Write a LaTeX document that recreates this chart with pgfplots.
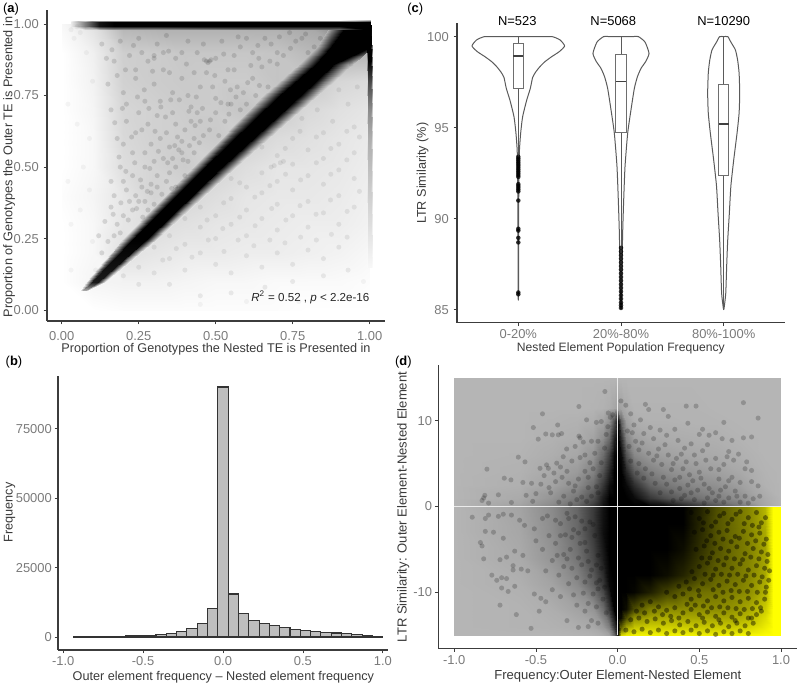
\documentclass[border=0pt]{standalone}
\usepackage{fontspec}
\setmainfont{Liberation Sans}
\usepackage{pgfplots}
\pgfplotsset{compat=1.18}
\definecolor{axisline}{HTML}{3C3C3C}
\definecolor{ticktext}{HTML}{7A7A7A}
\definecolor{titletext}{HTML}{3A3A3A}
\definecolor{violinline}{HTML}{5A5A5A}
\definecolor{boxline}{HTML}{6E6E6E}
\definecolor{barfill}{HTML}{BEBEBE}
\definecolor{panelgray}{HTML}{B5B5B5}
\pgfplotsset{
  panel/.style={
    scale only axis,
    axis lines=left,
    axis line style={-,color=axisline,line width=0.8pt},
    tick align=outside,
    major tick length=2.6pt,
    tick style={color=axisline,line width=0.6pt},
    scaled ticks=false,
    tick label style={font=\fontsize{9.7}{11}\selectfont,color=ticktext},
    label style={font=\fontsize{9.5}{11}\selectfont,color=titletext},
  },
  dots/.style 2 args={only marks,mark=*,mark size=#1,
    mark options={draw opacity=0,fill=black,fill opacity=#2}},
}
\begin{document}
\begin{tikzpicture}
\useasboundingbox (0,0) rectangle (600pt,513.75pt);

% (a) genotypes scatter
\begin{axis}[panel,at={(35.25pt,273pt)},width=253.5pt,height=233.25pt,
  xmin=-0.048,xmax=1.05,ymin=-0.038,ymax=1.049,
  xtick={0,0.25,0.5,0.75,1},xticklabels={0.00,0.25,0.50,0.75,1.00},
  ytick={0,0.25,0.5,0.75,1},yticklabels={0.00,0.25,0.50,0.75,1.00},
  xticklabel style={yshift=-2pt},
  xlabel={Proportion of Genotypes the Nested TE is Presented in},
  ylabel={Proportion of Genotypes the Outer TE is Presented in},
  xlabel style={at={(axis description cs:0.5,-0.09)},anchor=center},
  ylabel style={at={(axis description cs:-0.112,0.495)},anchor=center},
  colormap={bw}{gray=(1) gray=(0)},point meta min=0,point meta max=1]
% estimated darkness of the cloud, 0.1 steps
\addplot[surf,shader=interp,mesh/cols=11,point meta=explicit]
  table[x=x,y=y,meta=d,row sep=\\]{
x y d\\
0 0 0\\ .1 0 0\\ .2 0 .01\\ .3 0 .01\\ .4 0 .01\\ .5 0 .01\\ .6 0 .01\\ .7 0 .01\\ .8 0 0\\ .9 0 0\\ 1 0 0\\
0 .1 0\\ .1 .1 .04\\ .2 .1 .05\\ .3 .1 .05\\ .4 .1 .04\\ .5 .1 .03\\ .6 .1 .03\\ .7 .1 .02\\ .8 .1 .02\\ .9 .1 .02\\ 1 .1 .01\\
0 .2 .0\\ .1 .2 .03\\ .2 .2 .12\\ .3 .2 .1\\ .4 .2 .08\\ .5 .2 .08\\ .6 .2 .07\\ .7 .2 .07\\ .8 .2 .06\\ .9 .2 .05\\ 1 .2 .03\\
0 .3 0\\ .1 .3 .03\\ .2 .3 .1\\ .3 .3 .14\\ .4 .3 .12\\ .5 .3 .1\\ .6 .3 .09\\ .7 .3 .08\\ .8 .3 .07\\ .9 .3 .07\\ 1 .3 .05\\
0 .4 .01\\ .1 .4 .04\\ .2 .4 .1\\ .3 .4 .17\\ .4 .4 .16\\ .5 .4 .13\\ .6 .4 .1\\ .7 .4 .09\\ .8 .4 .09\\ .9 .4 .08\\ 1 .4 .06\\
0 .5 0\\ .1 .5 .03\\ .2 .5 .13\\ .3 .5 .17\\ .4 .5 .2\\ .5 .5 .17\\ .6 .5 .13\\ .7 .5 .1\\ .8 .5 .1\\ .9 .5 .09\\ 1 .5 .07\\
0 .6 0\\ .1 .6 .03\\ .2 .6 .15\\ .3 .6 .18\\ .4 .6 .19\\ .5 .6 .21\\ .6 .6 .18\\ .7 .6 .14\\ .8 .6 .12\\ .9 .6 .1\\ 1 .6 .08\\
0 .7 0\\ .1 .7 .04\\ .2 .7 .16\\ .3 .7 .18\\ .4 .7 .2\\ .5 .7 .2\\ .6 .7 .23\\ .7 .7 .2\\ .8 .7 .15\\ .9 .7 .12\\ 1 .7 .1\\
0 .8 0\\ .1 .8 .05\\ .2 .8 .18\\ .3 .8 .2\\ .4 .8 .21\\ .5 .8 .2\\ .6 .8 .2\\ .7 .8 .23\\ .8 .8 .22\\ .9 .8 .16\\ 1 .8 .14\\
0 .9 0\\ .1 .9 .06\\ .2 .9 .19\\ .3 .9 .2\\ .4 .9 .22\\ .5 .9 .22\\ .6 .9 .22\\ .7 .9 .23\\ .8 .9 .27\\ .9 .9 .3\\ 1 .9 .3\\
0 1 .03\\ .1 1 .12\\ .2 1 .3\\ .3 1 .32\\ .4 1 .32\\ .5 1 .32\\ .6 1 .32\\ .7 1 .32\\ .8 1 .35\\ .9 1 .5\\ 1 1 .9\\
};
% single points, upper triangle
\addplot[dots={1.9pt}{0.12}] coordinates {
(.13,.93)(.17,.87)(.15,.79)(.19,.94)(.22,.89)(.25,.95)(.28,.87)(.31,.93)(.34,.96)(.37,.88)(.41,.94)(.44,.9)(.48,.87)(.485,.875)(.52,.94)(.56,.89)(.6,.95)(.64,.88)(.68,.93)(.72,.89)(.76,.94)(.8,.9)(.84,.95)
(.16,.7)(.2,.76)(.24,.81)(.27,.73)(.3,.79)(.33,.84)(.36,.76)(.39,.81)(.42,.71)(.45,.78)(.47,.83)(.5,.74)(.53,.8)(.56,.84)(.59,.76)(.62,.81)(.65,.85)(.67,.78)(.7,.86)
(.18,.6)(.21,.66)(.23,.55)(.26,.63)(.29,.58)(.31,.68)(.34,.62)(.36,.69)(.38,.56)(.4,.63)(.43,.6)(.45,.66)(.48,.63)(.5,.69)(.53,.66)(.55,.72)(.58,.7)
(.16,.45)(.19,.5)(.21,.42)(.23,.47)(.25,.38)(.27,.5)(.29,.44)(.31,.47)(.33,.53)(.35,.48)(.37,.5)(.39,.55)(.41,.52)(.43,.55)
(.12,.26)(.14,.31)(.16,.36)(.18,.3)(.2,.33)(.22,.38)(.24,.4)(.27,.38)(.29,.41)(.31,.43)
(.13,.2)(.15,.24)(.17,.26)(.19,.27)
(.24,.84)(.26,.9)(.33,.9)(.35,.83)(.39,.9)(.43,.83)(.46,.93)(.5,.88)(.54,.84)(.58,.92)(.62,.9)(.66,.95)(.7,.9)(.74,.97)(.78,.95)(.82,.92)
(.18,.82)(.21,.72)(.25,.69)(.28,.65)(.32,.73)(.35,.57)(.37,.65)(.41,.75)(.44,.69)(.46,.61)(.49,.78)(.51,.61)(.54,.72)(.57,.78)(.6,.72)(.63,.75)
(.2,.58)(.24,.62)(.27,.55)(.3,.52)(.32,.6)(.36,.53)(.39,.59)(.42,.66)
(.17,.4)(.2,.45)(.23,.35)(.26,.43)(.28,.35)(.3,.37)(.34,.45)(.37,.43)(.4,.47)
(.3,.88)(.3,.89)(.475,.865)(.47,.87)
(.145,.88)(.163,.91)(.207,.84)(.233,.925)(.268,.77)(.295,.835)(.322,.71)(.347,.905)(.382,.735)(.405,.86)(.437,.745)(.463,.875)(.497,.82)(.526,.895)(.548,.77)(.573,.955)(.614,.855)(.637,.925)(.676,.87)(.707,.955)(.743,.915)(.792,.965)
(.172,.655)(.197,.705)(.227,.605)(.246,.745)(.283,.705)(.303,.625)(.337,.675)(.354,.735)(.376,.605)(.413,.695)(.433,.645)(.457,.705)(.483,.665)(.517,.725)(.543,.685)(.566,.745)(.604,.795)(.642,.785)
(.186,.535)(.208,.485)(.237,.515)(.256,.455)(.286,.495)(.314,.555)(.344,.515)(.367,.575)(.394,.525)(.415,.575)(.447,.585)
(.167,.335)(.192,.375)(.216,.315)(.243,.355)(.263,.325)(.278,.415)(.325,.405)(.357,.425)
};
% single points, lower triangle
\addplot[dots={1.9pt}{0.07}] coordinates {
(.2,.12)(.25,.15)(.3,.13)(.35,.18)(.4,.14)(.45,.2)(.5,.16)(.55,.13)(.6,.19)(.65,.15)(.7,.2)(.75,.16)(.8,.21)(.85,.18)(.9,.22)
(.3,.22)(.35,.26)(.4,.23)(.45,.29)(.5,.25)(.55,.3)(.6,.26)(.65,.32)(.7,.28)(.75,.33)(.8,.29)(.85,.34)(.9,.3)(.95,.36)
(.4,.32)(.45,.36)(.5,.33)(.55,.39)(.6,.35)(.65,.41)(.7,.37)(.75,.42)(.8,.38)(.85,.44)(.9,.4)(.95,.46)
(.55,.46)(.6,.43)(.65,.48)(.7,.45)(.75,.51)(.8,.47)(.85,.53)(.9,.49)(.95,.55)
(.65,.57)(.7,.54)(.75,.6)(.8,.56)(.85,.62)(.9,.58)(.95,.64)
(.78,.67)(.83,.7)(.88,.66)(.93,.72)(.96,.78)(.9,.77)(.94,.86)
(.68,.5)(.69,.505)(.71,.515)(.72,.52)
(.66,.08)(.55,.06)(.45,.05)(.75,.1)(.85,.12)(.93,.14)(.35,.09)(.25,.09)
(.328,.175)(.372,.215)(.423,.185)(.476,.245)(.527,.205)(.573,.245)(.624,.225)(.676,.245)(.725,.235)(.776,.255)(.827,.245)(.876,.265)(.927,.255)(.472,.315)(.523,.285)(.578,.325)(.628,.295)(.682,.355)(.728,.315)(.774,.365)(.826,.335)(.873,.385)(.927,.345)(.967,.415)(.526,.375)(.578,.445)(.627,.395)(.676,.435)(.727,.475)(.776,.455)(.827,.515)(.874,.475)(.926,.525)(.967,.605)(.726,.565)(.774,.625)(.827,.605)(.874,.565)(.926,.625)
};
% faint outliers at the margin
\addplot[dots={1.9pt}{0.04}] coordinates {
(.03,.98)(.05,.99)(.06,.97)(.04,.95)(.02,.72)(.05,.65)(.02,.45)(.07,.5)(.06,.35)(.03,.3)(.09,.6)(.1,.8)(.08,.9)(.09,.42)(.1,.24)(.11,.14)(.12,.11)(.03,.14)(.45,.02)(.6,.03)(.77,.03)(.98,.1)
};
% diagonal band: halo, core, halo along horizontal sections
\addplot[surf,shader=interp,mesh/cols=4,point meta=explicit]
  table[x=x,y=y,meta=d,row sep=\\]{
x y d\\
.06 .07 0\\ .07 .07 .35\\ .08 .07 .35\\ .09 .07 0\\
.08 .1 .05\\ .098 .1 .9\\ .118 .1 .9\\ .14 .1 .05\\
.2 .25 .15\\ .232 .25 1\\ .276 .25 1\\ .31 .25 .11\\
.425 .5 .19\\ .465 .5 1\\ .52 .5 1\\ .565 .5 .14\\
.655 .75 .23\\ .705 .75 1\\ .775 .75 1\\ .83 .75 .17\\
.775 .86 .27\\ .825 .86 1\\ .885 .86 1\\ .945 .86 .22\\
.83 .92 .3\\ .875 .92 1\\ 1.004 .92 1\\ 1.007 .92 .9\\
.875 .995 .33\\ .925 .995 1\\ 1.004 .995 1\\ 1.007 .995 .9\\
};
% top row of points, along x
\addplot[surf,shader=interp,mesh/cols=4,point meta=explicit]
  table[x=x,y=y,meta=d,row sep=\\]{
x y d\\
.03 .98 .03\\ .03 .993 .08\\ .03 1.007 .08\\ .03 1.013 0\\
.075 .98 .08\\ .075 .993 .5\\ .075 1.007 .5\\ .075 1.013 0\\
.12 .98 .15\\ .12 .992 .92\\ .12 1.008 .92\\ .12 1.013 0\\
.17 .98 .3\\ .17 .992 1\\ .17 1.008 1\\ .17 1.013 0\\
.3 .98 .32\\ .3 .992 1\\ .3 1.008 1\\ .3 1.013 0\\
.9 .98 .5\\ .9 .992 1\\ .9 1.008 1\\ .9 1.013 0\\
1.004 .98 1\\ 1.004 .992 1\\ 1.004 1.008 1\\ 1.004 1.013 .3\\
};
% right column of points, along y
\addplot[surf,shader=interp,mesh/cols=4,point meta=explicit]
  table[x=x,y=y,meta=d,row sep=\\]{
x y d\\
.99 .15 .02\\ .996 .15 .03\\ 1.004 .15 .03\\ 1.01 .15 0\\
.99 .3 .05\\ .996 .3 .13\\ 1.004 .3 .13\\ 1.01 .3 0\\
.99 .45 .07\\ .996 .45 .22\\ 1.004 .45 .22\\ 1.01 .45 0\\
.99 .6 .08\\ .996 .6 .32\\ 1.004 .6 .32\\ 1.01 .6 0\\
.99 .7 .1\\ .996 .7 .45\\ 1.004 .7 .45\\ 1.01 .7 0\\
.99 .8 .15\\ .996 .8 .72\\ 1.004 .8 .72\\ 1.01 .8 0\\
.99 .87 .4\\ .996 .87 1\\ 1.004 .87 1\\ 1.01 .87 0\\
.99 .925 1\\ .996 .925 1\\ 1.004 .925 1\\ 1.01 .925 .2\\
};
\node[anchor=west,font=\fontsize{8.7}{11}\selectfont,color=black!85] at (axis cs:.6006,.043)
  {\textit{R}\textsuperscript{2} = 0.52 , \textit{p} < 2.2e-16};
\end{axis}

% (b) histogram
\begin{axis}[panel,at={(43.5pt,26.25pt)},width=247.5pt,height=205.5pt,
  xmin=-1.0322,xmax=1.0322,ymin=-4680,ymax=93970,
  xtick={-1,-0.5,0,0.5,1},xticklabels={-1.0,-0.5,0.0,0.5,1.0},
  ytick={0,25000,50000,75000},yticklabels={0,25000,50000,75000},
  xticklabel style={yshift=1.2pt},
  yticklabel style={xshift=1.5pt},
  xlabel={Outer element frequency – Nested element frequency},
  ylabel={Frequency},
  xlabel style={at={(axis description cs:0.501,-0.098)},anchor=center},
  ylabel style={at={(axis description cs:-0.147,0.5026)},anchor=center}]
\addplot[ybar,bar width=0.0645,bar shift=0pt,fill=barfill,draw=black!80,line width=0.8pt] coordinates {
(-0.9030,50)(-0.8385,90)(-0.7740,130)(-0.7095,180)(-0.6450,250)(-0.5805,350)(-0.5160,450)(-0.4515,700)
(-0.3870,1000)(-0.3225,1400)(-0.2580,2050)(-0.1935,3000)(-0.1290,4900)(-0.0645,10200)
(0,90000)(0.0645,15480)(0.1290,8400)(0.1935,5900)(0.2580,4700)(0.3225,4000)(0.3870,3400)(0.4515,2800)
(0.5160,2400)(0.5805,2050)(0.6450,1700)(0.7095,1450)(0.7740,1100)(0.8385,750)(0.9030,350)(0.9675,100)
};
\end{axis}

% (c) violins
\begin{axis}[panel,at={(342.75pt,271.7pt)},width=246pt,height=224.8pt,clip=false,
  xmin=0.403,xmax=3.597,ymin=84.29,ymax=100.75,
  xtick={1,2,3},xticklabels={0-20\%,20\%-80\%,80\%-100\%},
  ytick={85,90,95,100},yticklabels={85,90,95,100},
  xticklabel style={yshift=1.2pt},
  xlabel={Nested Element Population Frequency},
  ylabel={LTR Similarity (\%)},
  xlabel style={font=\fontsize{9.1}{11}\selectfont,at={(axis description cs:0.4994,-0.087)},anchor=center},
  ylabel style={at={(axis description cs:-0.1046,0.4985)},anchor=center}]
% violin outlines
\addplot[smooth,tension=.35,draw=violinline,line width=0.75pt,line join=round] coordinates {
(1,100)(1.2,100)(1.33,100)(1.406,99.82)(1.451,99.49)(1.40,99.18)(1.325,98.9)(1.26,98.63)(1.21,98.35)(1.172,98.08)(1.14,97.77)(1.117,97.16)(1.081,96.5)(1.042,95.6)(1.023,94.7)(1.01,93.6)(1.004,91)(1.002,85.9)
(.998,85.9)(.996,91)(.99,93.6)(.977,94.7)(.958,95.6)(.919,96.5)(.883,97.16)(.86,97.77)(.828,98.08)(.79,98.35)(.74,98.63)(.675,98.9)(.6,99.18)(.549,99.49)(.594,99.82)(.67,100)(.8,100)(1,100)};
\addplot[smooth,tension=.35,draw=violinline,line width=0.75pt,line join=round] coordinates {
(2,100)(2.1,100)(2.17,100)(2.234,99.7)(2.273,99.08)(2.24,98.63)(2.195,98.26)(2.16,97.8)(2.13,97.16)(2.097,95.97)(2.065,94.7)(2.039,92.86)(2.026,91)(2.016,89.2)(2.01,87.3)(2.006,85.5)(2.003,85.05)
(1.997,85.05)(1.994,85.5)(1.99,87.3)(1.984,89.2)(1.974,91)(1.961,92.86)(1.935,94.7)(1.903,95.97)(1.87,97.16)(1.84,97.8)(1.805,98.26)(1.76,98.63)(1.727,99.08)(1.766,99.7)(1.83,100)(1.9,100)(2,100)};
\addplot[smooth,tension=.35,draw=violinline,line width=0.75pt,line join=round] coordinates {
(3,100)(3.04,100)(3.07,99.7)(3.114,99.27)(3.136,98.7)(3.15,98)(3.156,96.9)(3.15,95.8)(3.13,94.7)(3.097,93.2)(3.07,91.8)(3.055,90.3)(3.039,88.8)(3.029,87.4)(3.02,85.9)(3.003,85.07)
(2.997,85.07)(2.98,85.9)(2.971,87.4)(2.961,88.8)(2.945,90.3)(2.93,91.8)(2.903,93.2)(2.87,94.7)(2.85,95.8)(2.844,96.9)(2.85,98)(2.864,98.7)(2.886,99.27)(2.93,99.7)(2.96,100)(3,100)};
% whiskers
\addplot[draw=violinline,line width=0.75pt] coordinates {(1,100)(1,99.6)};
\addplot[draw=violinline,line width=0.75pt] coordinates {(1,97.15)(1,93.5)};
\addplot[draw=violinline,line width=0.75pt] coordinates {(2,100)(2,99)};
\addplot[draw=violinline,line width=0.75pt] coordinates {(2,94.76)(2,88.5)};
\addplot[draw=violinline,line width=0.75pt] coordinates {(3,100)(3,97.38)};
\addplot[draw=violinline,line width=0.75pt] coordinates {(3,92.38)(3,85.1)};
% boxes
\addplot[draw=boxline,line width=0.8pt] coordinates {(.95,97.15)(1.05,97.15)(1.05,99.6)(.95,99.6)} -- cycle;
\addplot[draw=boxline,line width=0.8pt] coordinates {(1.95,94.76)(2.05,94.76)(2.05,99)(1.95,99)} -- cycle;
\addplot[draw=boxline,line width=0.8pt] coordinates {(2.95,92.38)(3.05,92.38)(3.05,97.38)(2.95,97.38)} -- cycle;
% medians
\addplot[draw=black!75,line width=1.3pt] coordinates {(.95,98.94)(1.05,98.94)};
\addplot[draw=black!75,line width=1.3pt] coordinates {(1.95,97.53)(2.05,97.53)};
\addplot[draw=black!75,line width=1.3pt] coordinates {(2.95,95.2)(3.05,95.2)};
% outliers
\addplot[dots={1.7pt}{.8}] coordinates {
(1,93.4)(1,93.3)(1,93.2)(1,93.1)(1,93)(1,92.9)(1,92.8)(1,92.7)(1,92.6)(1,92.5)(1,92.4)(1,92.3)(1,91.9)(1,91.8)(1,91.7)(1,91.6)(1,91.5)(1,91)(1,89.45)(1,89.35)(1,88.95)(1,88.7)(1,85.95)(1,85.85)};
\addplot[dots={1.7pt}{.8}] coordinates {
(2,88.4)(2,88.2)(2,88)(2,87.8)(2,87.6)(2,87.4)(2,87.2)(2,87)(2,86.8)(2,86.6)(2,86.4)(2,86.2)(2,86)(2,85.8)(2,85.6)(2,85.4)(2,85.25)(2,85.1)};
\node[font=\fontsize{9.7}{11}\selectfont] at (axis cs:.99,100.86) {N=523};
\node[font=\fontsize{9.7}{11}\selectfont] at (axis cs:1.925,100.86) {N=5068};
\node[font=\fontsize{9.7}{11}\selectfont] at (axis cs:3,100.86) {N=10290};
\end{axis}

% (d) difference scatter
\begin{axis}[panel,at={(328.7pt,27.5pt)},width=268.8pt,height=212.5pt,
  xmin=-1.098,xmax=1.096,ymin=-16.53,ymax=16.49,
  xtick={-1,-0.5,0,0.5,1},xticklabels={-1.0,-0.5,0.0,0.5,1.0},
  ytick={-10,0,10},yticklabels={-10,0,10},
  xticklabel style={yshift=1pt},
  yticklabel style={xshift=1.5pt},
  xlabel={Frequency:Outer Element-Nested Element},
  ylabel={LTR Similarity: Outer Element-Nested Element},
  xlabel style={font=\fontsize{9.8}{11}\selectfont,at={(axis description cs:0.501,-0.099)},anchor=center},
  ylabel style={font=\fontsize{9.8}{11}\selectfont,at={(axis description cs:-0.0977,0.4988)},anchor=center},
  colormap={quad}{rgb255=(255,255,0) rgb255=(0,0,0) rgb255=(181,181,181)},
  point meta min=-1,point meta max=1]
% cloud density, meta -1 yellow, 0 black, 1 panel gray
% upper half
\addplot[surf,shader=interp,mesh/cols=19,point meta=explicit]
  table[x=x,y=y,meta=m,row sep=\\]{
x y m\\
-1 0 1\\ -.6 0 .9\\ -.4 0 .76\\ -.25 0 .56\\ -.15 0 .32\\ -.09 0 .1\\ -.05 0 0\\ -.02 0 0\\ 0 0 0\\ .02 0 0\\ .05 0 0\\ .1 0 0\\ .2 0 0\\ .3 0 .05\\ .45 0 .25\\ .6 0 .45\\ .75 0 .65\\ .9 0 .92\\ 1 0 1\\
-1 1 1\\ -.6 1 .94\\ -.4 1 .82\\ -.25 1 .66\\ -.15 1 .44\\ -.09 1 .15\\ -.05 1 0\\ -.02 1 0\\ 0 1 0\\ .02 1 0\\ .05 1 0\\ .1 1 .05\\ .2 1 .3\\ .3 1 .45\\ .45 1 .6\\ .6 1 .7\\ .75 1 .8\\ .9 1 .94\\ 1 1 1\\
-1 2.5 1\\ -.6 2.5 .97\\ -.4 2.5 .9\\ -.25 2.5 .78\\ -.15 2.5 .6\\ -.09 2.5 .3\\ -.05 2.5 .08\\ -.02 2.5 0\\ 0 2.5 0\\ .02 2.5 0\\ .05 2.5 .05\\ .1 2.5 .25\\ .2 2.5 .55\\ .3 2.5 .66\\ .45 2.5 .75\\ .6 2.5 .8\\ .75 2.5 .88\\ .9 2.5 .98\\ 1 2.5 1\\
-1 4 1\\ -.6 4 .98\\ -.4 4 .93\\ -.25 4 .85\\ -.15 4 .72\\ -.09 4 .45\\ -.05 4 .2\\ -.02 4 0\\ 0 4 0\\ .02 4 0\\ .05 4 .2\\ .1 4 .5\\ .2 4 .7\\ .3 4 .78\\ .45 4 .84\\ .6 4 .88\\ .75 4 .93\\ .9 4 .99\\ 1 4 1\\
-1 6 1\\ -.6 6 .99\\ -.4 6 .96\\ -.25 6 .92\\ -.15 6 .82\\ -.09 6 .6\\ -.05 6 .35\\ -.02 6 .05\\ 0 6 0\\ .02 6 .05\\ .05 6 .45\\ .1 6 .75\\ .2 6 .85\\ .3 6 .89\\ .45 6 .92\\ .6 6 .94\\ .75 6 .97\\ .9 6 1\\ 1 6 1\\
-1 8 1\\ -.6 8 1\\ -.4 8 .98\\ -.25 8 .96\\ -.15 8 .9\\ -.09 8 .78\\ -.05 8 .6\\ -.02 8 .2\\ 0 8 0\\ .02 8 .25\\ .05 8 .72\\ .1 8 .88\\ .2 8 .93\\ .3 8 .95\\ .45 8 .96\\ .6 8 .97\\ .75 8 .99\\ .9 8 1\\ 1 8 1\\
-1 10 1\\ -.6 10 1\\ -.4 10 .99\\ -.25 10 .98\\ -.15 10 .96\\ -.09 10 .9\\ -.05 10 .8\\ -.02 10 .45\\ 0 10 .1\\ .02 10 .55\\ .05 10 .88\\ .1 10 .96\\ .2 10 .98\\ .3 10 .98\\ .45 10 .99\\ .6 10 .99\\ .75 10 1\\ .9 10 1\\ 1 10 1\\
-1 11.5 1\\ -.6 11.5 1\\ -.4 11.5 1\\ -.25 11.5 1\\ -.15 11.5 .99\\ -.09 11.5 .98\\ -.05 11.5 .96\\ -.02 11.5 .92\\ 0 11.5 .88\\ .02 11.5 .9\\ .05 11.5 .95\\ .1 11.5 .99\\ .2 11.5 .99\\ .3 11.5 .99\\ .45 11.5 .99\\ .6 11.5 1\\ .75 11.5 1\\ .9 11.5 1\\ 1 11.5 1\\
-1 15 1\\ -.6 15 1\\ -.4 15 1\\ -.25 15 1\\ -.15 15 1\\ -.09 15 1\\ -.05 15 1\\ -.02 15 1\\ 0 15 1\\ .02 15 1\\ .05 15 1\\ .1 15 1\\ .2 15 1\\ .3 15 1\\ .45 15 1\\ .6 15 1\\ .75 15 1\\ .9 15 1\\ 1 15 1\\
};
% lower left quadrant
\addplot[surf,shader=interp,mesh/cols=9,point meta=explicit]
  table[x=x,y=y,meta=m,row sep=\\]{
x y m\\
-1 -15 1\\ -.6 -15 1\\ -.4 -15 1\\ -.25 -15 .99\\ -.15 -15 .98\\ -.09 -15 .95\\ -.05 -15 .9\\ -.02 -15 .6\\ 0 -15 .1\\
-1 -14 1\\ -.6 -14 .99\\ -.4 -14 .98\\ -.25 -14 .96\\ -.15 -14 .93\\ -.09 -14 .85\\ -.05 -14 .7\\ -.02 -14 .3\\ 0 -14 0\\
-1 -12 1\\ -.6 -12 .99\\ -.4 -12 .96\\ -.25 -12 .9\\ -.15 -12 .82\\ -.09 -12 .6\\ -.05 -12 .3\\ -.02 -12 0\\ 0 -12 0\\
-1 -9 1\\ -.6 -9 .97\\ -.4 -9 .9\\ -.25 -9 .76\\ -.15 -9 .54\\ -.09 -9 .3\\ -.05 -9 .05\\ -.02 -9 0\\ 0 -9 0\\
-1 -6 1\\ -.6 -6 .94\\ -.4 -6 .82\\ -.25 -6 .64\\ -.15 -6 .4\\ -.09 -6 .15\\ -.05 -6 0\\ -.02 -6 0\\ 0 -6 0\\
-1 -3 1\\ -.6 -3 .92\\ -.4 -3 .78\\ -.25 -3 .58\\ -.15 -3 .32\\ -.09 -3 .08\\ -.05 -3 0\\ -.02 -3 0\\ 0 -3 0\\
-1 0 1\\ -.6 0 .9\\ -.4 0 .76\\ -.25 0 .56\\ -.15 0 .32\\ -.09 0 .1\\ -.05 0 0\\ -.02 0 0\\ 0 0 0\\
};
% yellow quadrant
\addplot[surf,shader=interp,mesh/cols=14,point meta=explicit]
  table[x=x,y=y,meta=m,row sep=\\]{
x y m\\
0 -15 -.1\\ .02 -15 -.85\\ .05 -15 -.92\\ .1 -15 -.95\\ .2 -15 -.95\\ .3 -15 -.95\\ .4 -15 -.95\\ .5 -15 -.94\\ .6 -15 -.94\\ .7 -15 -.94\\ .8 -15 -.96\\ .9 -15 -.99\\ .95 -15 -1\\ 1 -15 -1\\
0 -14.3 0\\ .02 -14.3 -.45\\ .05 -14.3 -.72\\ .1 -14.3 -.82\\ .2 -14.3 -.84\\ .3 -14.3 -.84\\ .4 -14.3 -.84\\ .5 -14.3 -.82\\ .6 -14.3 -.82\\ .7 -14.3 -.82\\ .8 -14.3 -.86\\ .9 -14.3 -.94\\ .95 -14.3 -1\\ 1 -14.3 -1\\
0 -13 0\\ .02 -13 -.05\\ .05 -13 -.3\\ .1 -13 -.58\\ .2 -13 -.66\\ .3 -13 -.68\\ .4 -13 -.66\\ .5 -13 -.66\\ .6 -13 -.66\\ .7 -13 -.66\\ .8 -13 -.72\\ .9 -13 -.87\\ .95 -13 -1\\ 1 -13 -1\\
0 -12 0\\ .02 -12 0\\ .05 -12 -.05\\ .1 -12 -.3\\ .2 -12 -.5\\ .3 -12 -.55\\ .4 -12 -.55\\ .5 -12 -.55\\ .6 -12 -.55\\ .7 -12 -.58\\ .8 -12 -.65\\ .9 -12 -.8\\ .95 -12 -1\\ 1 -12 -1\\
0 -10 0\\ .02 -10 0\\ .05 -10 0\\ .1 -10 -.02\\ .2 -10 -.12\\ .3 -10 -.26\\ .4 -10 -.38\\ .5 -10 -.44\\ .6 -10 -.46\\ .7 -10 -.5\\ .8 -10 -.55\\ .9 -10 -.7\\ .95 -10 -1\\ 1 -10 -1\\
0 -8 0\\ .02 -8 0\\ .05 -8 0\\ .1 -8 0\\ .2 -8 0\\ .3 -8 -.05\\ .4 -8 -.14\\ .5 -8 -.26\\ .6 -8 -.38\\ .7 -8 -.44\\ .8 -8 -.52\\ .9 -8 -.66\\ .95 -8 -1\\ 1 -8 -1\\
0 -5 0\\ .02 -5 0\\ .05 -5 0\\ .1 -5 0\\ .2 -5 0\\ .3 -5 0\\ .4 -5 -.05\\ .5 -5 -.18\\ .6 -5 -.32\\ .7 -5 -.42\\ .8 -5 -.5\\ .9 -5 -.64\\ .95 -5 -1\\ 1 -5 -1\\
0 -2 0\\ .02 -2 0\\ .05 -2 0\\ .1 -2 0\\ .2 -2 0\\ .3 -2 0\\ .4 -2 0\\ .5 -2 -.14\\ .6 -2 -.32\\ .7 -2 -.42\\ .8 -2 -.52\\ .9 -2 -.68\\ .95 -2 -1\\ 1 -2 -1\\
0 0 0\\ .02 0 0\\ .05 0 0\\ .1 0 0\\ .2 0 0\\ .3 0 0\\ .4 0 0\\ .5 0 -.12\\ .6 0 -.3\\ .7 0 -.42\\ .8 0 -.52\\ .9 0 -.72\\ .95 0 -1\\ 1 0 -1\\
};
% single points, left half
\addplot[dots={1.9pt}{0.2}] coordinates {
(-.078,13.4)(-.237,11.65)(-.46,10.8)(-.516,9.2)(-.486,7.85)(-.367,9.5)(-.44,8.45)(-.4,8.35)(-.363,8.35)(-.343,8.5)(-.237,8.2)(-.23,8)(-.19,10.1)(-.13,9.8)(-.1,9.9)(-.057,10.9)(-.03,10.7)(-.045,10.4)
(-.608,5.75)(-.567,5.2)(-.8,4.35)(-.694,3.3)(-.653,3.1)(-.58,2.8)(-.527,2.7)(-.813,1.3)(-.82,1)(-.83,.7)(-.73,1.36)(-.79,.4)(-.65,.47)(-.475,4.45)(-.435,4.85)(-.373,5.05)(-.424,4.45)(-.333,5.8)(-.312,6.7)(-.26,7)(-.21,7.5)(-.16,7.6)(-.2,6)(-.28,5.3)(-.35,4.6)(-.39,3.9)(-.45,3.6)(-.5,1.5)(-.56,1.3)(-.52,.6)(-.47,2.6)(-.42,2.2)(-.38,2.9)(-.34,3.4)(-.3,2.7)(-.27,1.8)(-.33,1.2)(-.36,.5)(-.29,.3)(-.24,3.2)(-.2,4.1)(-.17,5.1)(-.14,6.2)(-.12,7.6)
(-.89,-1.25)(-.81,-1.4)(-.79,-1)(-.73,-1.15)(-.7,-.9)(-.65,-1)(-.6,-1.6)(-.57,-2.2)(-.51,-2.6)(-.46,-1.4)(-.81,-2.9)(-.76,-3)(-.7,-3.7)(-.84,-4.2)(-.83,-4.6)(-.82,-6.1)(-.72,-6.2)(-.68,-5.9)(-.63,-5.2)(-.58,-5.7)(-.64,-6.9)(-.55,-7.5)(-.59,-7.3)(-.64,-7.4)(-.77,-8)(-.74,-8.6)(-.71,-8.3)(-.68,-8.4)(-.71,-9.5)(-.67,-9.9)(-.63,-9.3)(-.72,-11.5)(-.62,-12.6)(-.51,-10.2)(-.47,-10.7)(-.44,-11.1)(-.48,-12.2)(-.53,-14.2)(-.31,-13.3)(-.24,-14.1)(-.18,-14)(-.16,-13.3)(-.12,-13.6)
(-.5,-4)(-.46,-5)(-.42,-3.4)(-.38,-4.3)(-.35,-2)(-.33,-5.6)(-.4,-6.3)(-.44,-7.5)(-.36,-8)(-.33,-7)(-.3,-9)(-.27,-10.3)(-.25,-11.5)(-.35,-10.5)(-.4,-9.7)(-.2,-12.2)(-.28,-3.6)(-.26,-1.2)(-.23,-4.3)(-.22,-6.8)(-.25,-8.3)(-.2,-2.6)
(-.16,1.2)(-.13,2.3)(-.11,3.6)(-.18,2.2)(-.22,1.1)(-.1,5.1)(-.08,6.8)(-.07,8.4)(-.06,9.3)(-.17,-1.8)(-.14,-3.4)(-.19,-5.2)(-.12,-5.7)(-.16,-7.4)(-.11,-8.6)(-.15,-10.2)(-.09,-10.8)(-.07,-12.4)(-.13,-11.7)(-.2,-8.8)(-.18,-6.4)(-.24,-6)(-.3,-1.4)(-.32,-3.3)
(-.41,1.6)(-.31,4.1)(-.26,2.4)(-.23,5.7)(-.18,3.4)(-.15,4.4)(-.12,1.6)(-.19,.6)(-.25,.8)(-.43,-1.1)(-.38,-1.6)(-.31,-.8)(-.22,-1.7)(-.27,-2.7)(-.35,-3.4)(-.29,-5)(-.24,-3.1)(-.2,-4.2)(-.15,-2.1)(-.13,-6.8)(-.17,-8.1)(-.21,-10.1)(-.28,-7.2)(-.31,-6.1)(-.37,-5.7)(-.13,-8.9)(-.1,-7.2)(-.12,-9.6)(-.18,-11.3)(-.08,-9.4)
};
% single points, upper right
\addplot[dots={1.9pt}{0.2}] coordinates {
(.02,12.3)(.05,11.8)(.17,11.9)(.19,11.3)(.28,11.3)(.42,11.7)(.48,11.7)(.77,12.1)(.86,10.3)(.65,9.8)(.43,9.7)(.31,10.5)(.14,10.1)(.08,10.8)(.1,9.5)(.2,9.2)(.26,8.9)(.35,9)(.52,9)(.56,8.3)(.6,8.6)(.64,7.9)(.7,7.7)(.77,8)(.82,8.1)(.68,6.4)(.74,6.1)(.79,5.2)(.71,5.4)(.78,4.4)(.82,4.2)
(.5,8.4)(.45,7.3)(.41,6.8)(.37,7.7)(.3,8.3)(.22,7.9)(.16,8.5)(.11,7.6)(.13,6.6)(.19,6.2)(.25,6.7)(.31,6)(.36,5.6)(.42,5.2)(.47,6)(.52,6.5)(.55,7.2)(.6,5.6)(.65,4.9)(.57,4.4)(.5,4)(.44,3.7)(.38,3.4)(.33,4.3)(.27,4.9)(.22,5.4)
(.86,2.4)(.82,2.9)(.75,2.8)(.7,3.4)(.66,2.3)(.62,3.2)(.58,1.6)(.53,2.6)(.49,1.9)(.43,2.5)(.38,2.1)(.78,1.2)(.72,1.8)(.83,.9)(.87,1.2)(.68,1)(.62,1.2)(.55,1)(.75,.5)(.8,.4)
(.16,3.3)(.23,2.7)(.28,3.4)(.33,1.7)(.41,1.3)(.47,.8)(.53,.4)(.26,1.6)(.13,5)(.17,4.4)(.07,7)(.08,5.3)(.12,3.9)(.06,8.8)(.09,8.6)
(.21,3.8)(.3,2.6)(.35,3.1)(.4,4.4)(.46,3)(.51,3.3)(.56,2.1)(.63,1.9)(.68,3)(.73,1.2)(.6,.7)(.65,.5)(.45,1.6)(.39,.9)(.34,.7)(.48,5)(.54,5.4)(.29,7.2)(.15,7.4)(.24,5.9)(.34,5)(.39,6.1)(.62,4.3)(.67,5.8)
};
% single points, yellow quadrant
\addplot[dots={1.9pt}{0.42}] coordinates {
(.45,-.7)(.5,-1.4)(.55,-.6)(.6,-1.8)(.65,-.8)(.7,-1.5)(.75,-.6)(.8,-1.3)(.85,-.7)(.88,-1.9)(.47,-3)(.52,-2.7)(.57,-3.4)(.62,-3)(.67,-2.8)(.72,-3.5)(.77,-2.9)(.82,-3.3)(.87,-3.1)(.91,-3.8)
(.48,-5)(.53,-4.6)(.58,-5.4)(.63,-4.9)(.68,-5.2)(.73,-4.7)(.78,-5.5)(.83,-4.9)(.88,-5.3)(.92,-5.6)(.5,-7)(.55,-6.6)(.6,-7.3)(.65,-6.8)(.7,-7.2)(.75,-6.7)(.8,-7.4)(.85,-6.9)(.9,-7.2)(.93,-7.5)
(.42,-8.8)(.47,-8.4)(.52,-9)(.57,-8.5)(.62,-9.2)(.67,-8.7)(.72,-9.1)(.77,-8.6)(.82,-9.2)(.87,-8.8)(.91,-9.4)(.3,-10)(.35,-10.5)(.4,-10.2)(.45,-10.8)(.5,-10.4)(.55,-11)(.6,-10.5)(.65,-11)(.7,-10.6)(.75,-11.1)(.8,-10.7)(.85,-11.2)(.9,-10.8)
(.15,-11.5)(.2,-11.1)(.25,-11.7)(.3,-12.1)(.35,-11.8)(.4,-12.4)(.45,-12)(.5,-12.6)(.55,-12.3)(.6,-12.8)(.65,-12.4)(.7,-12.9)(.75,-12.5)(.8,-13)(.85,-12.6)(.88,-12.2)
(.08,-13.2)(.13,-13)(.18,-13.4)(.23,-13.1)(.28,-13.6)(.33,-13.3)(.38,-13.8)(.43,-13.4)(.48,-13.9)(.53,-13.5)(.58,-13.9)(.63,-13.6)(.68,-14)(.73,-13.6)(.78,-13.9)(.83,-13.6)
(.05,-14.4)(.1,-14.6)(.15,-14.3)(.2,-14.7)(.25,-14.4)(.3,-14.8)(.35,-14.5)(.4,-14.7)(.45,-14.4)(.5,-14.8)(.55,-14.5)(.6,-14.9)(.65,-14.6)(.7,-14.8)(.75,-14.5)(.8,-14.8)
(.525,-1.9)(.575,-2.3)(.625,-1.1)(.675,-2)(.725,-.9)(.775,-2)(.825,-2.2)(.865,-2.4)(.905,-1.3)(.545,-4)(.595,-4.3)(.645,-3.8)(.695,-4.1)(.745,-3.7)(.795,-4.3)(.845,-4)(.895,-4.4)(.515,-6)(.565,-6)(.615,-6.3)(.665,-6)(.715,-6.1)(.765,-6.2)(.815,-5.9)(.865,-6.1)(.915,-6.4)
(.455,-7.6)(.535,-7.9)(.585,-8)(.635,-7.9)(.685,-8)(.735,-7.9)(.785,-8.1)(.835,-8)(.885,-8.2)(.925,-8.6)(.375,-9.3)(.44,-9.6)(.495,-9.8)(.585,-9.7)(.645,-10)(.695,-9.8)(.745,-9.9)(.795,-9.9)(.855,-10)(.905,-10)
(.225,-12.2)(.275,-12.6)(.325,-12.8)(.375,-13)(.425,-11.4)(.475,-11.5)(.525,-11.6)(.575,-11.8)(.625,-11.7)(.675,-11.8)(.725,-11.9)(.775,-12)(.825,-11.9)(.875,-11.8)(.165,-12.4)(.115,-12.2)(.62,-13.2)(.72,-13.3)(.82,-13)(.52,-13)
};
% reference lines over the points
\addplot[draw=white!92!black,line width=0.9pt] coordinates {(-1,0)(1,0)};
\addplot[draw=white!92!black,line width=0.9pt] coordinates {(0,-15)(0,15)};
\end{axis}

% panel letters
\node[font=\fontsize{9.7}{11}\selectfont] at (8.25pt,507pt) {(\textbf{a})};
\node[font=\fontsize{9.7}{11}\selectfont] at (10.5pt,242pt) {(\textbf{b})};
\node[font=\fontsize{9.7}{11}\selectfont] at (311.5pt,507pt) {(\textbf{c})};
\node[font=\fontsize{9.7}{11}\selectfont] at (302.5pt,242pt) {(\textbf{d})};
\end{tikzpicture}
\end{document}
